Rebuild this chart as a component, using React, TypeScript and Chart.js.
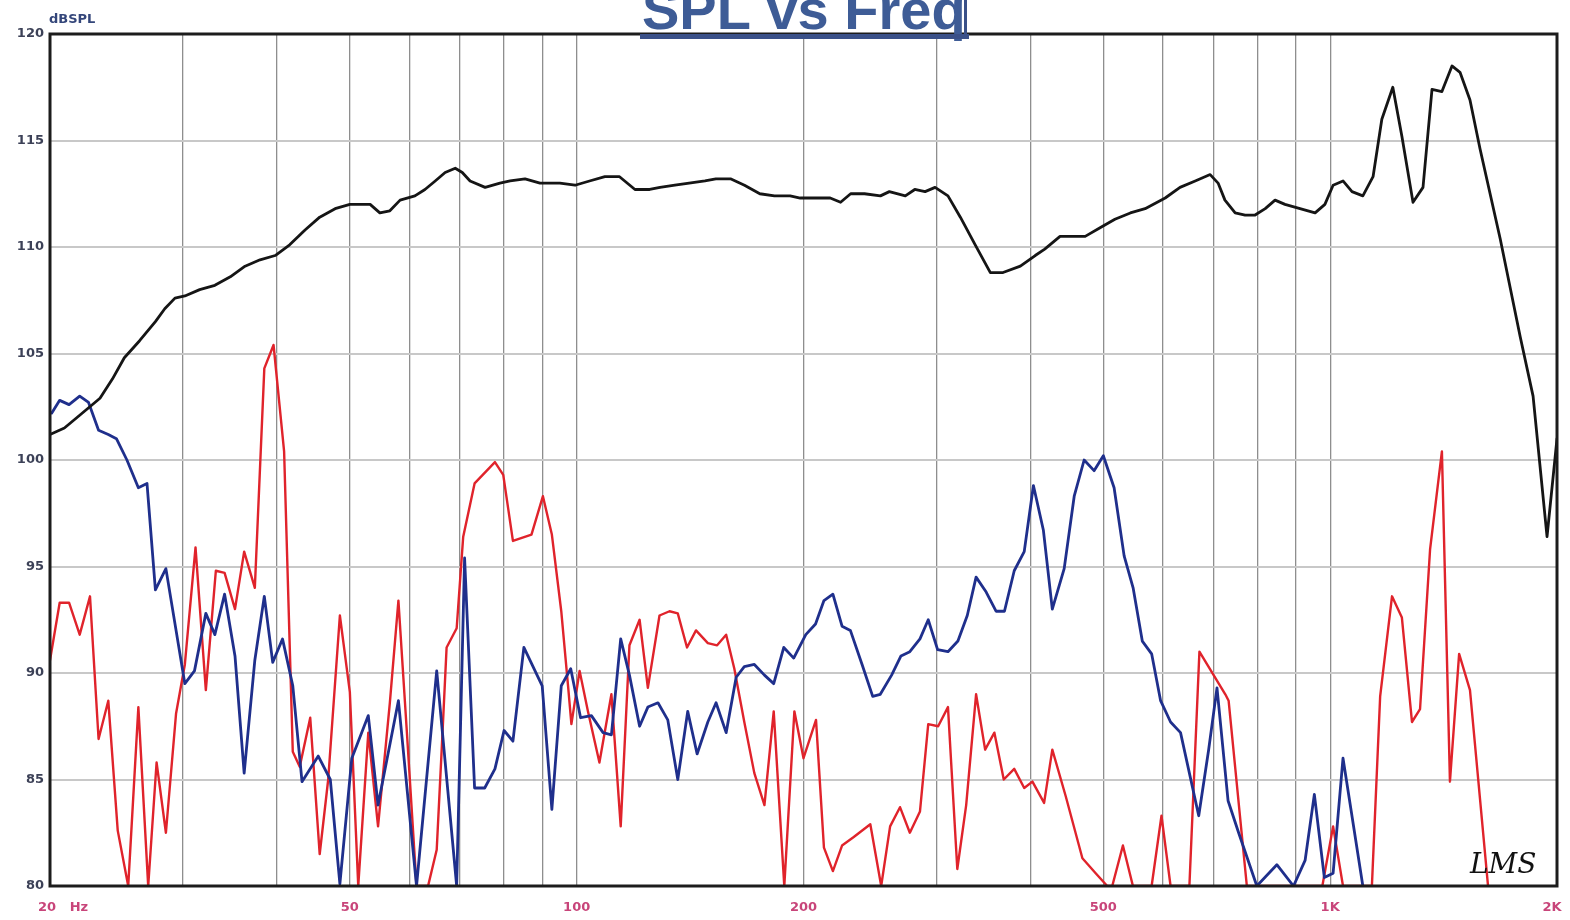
import React, { useEffect, useRef } from "react";
import { Chart, registerables } from "chart.js";

Chart.register(...registerables);

// [frequency Hz, dB SPL]
const blackSeries: [number, number][] = [
  [20, 101.2], [20.9, 101.5], [21.9, 102.1], [23.3, 102.9], [24.2, 103.8], [25.1, 104.8], [26.3, 105.6],
  [27.6, 106.5], [28.4, 107.1], [29.3, 107.6], [30.2, 107.7], [31.6, 108.0], [33.1, 108.2], [34.7, 108.6],
  [36.3, 109.1], [38.0, 109.4], [39.8, 109.6], [41.6, 110.1], [43.6, 110.8], [45.6, 111.4], [47.8, 111.8],
  [50, 112.0], [53.2, 112.0], [54.8, 111.6], [56.5, 111.7], [58.3, 112.2], [61, 112.4], [62.9, 112.7],
  [64.9, 113.1], [66.9, 113.5], [69, 113.7], [70.5, 113.5], [72.2, 113.1], [75.6, 112.8], [79.1, 113.0],
  [81.6, 113.1], [85.4, 113.2], [89.4, 113.0], [95, 113.0], [99.5, 112.9], [104, 113.1], [109, 113.3],
  [114, 113.3], [119.5, 112.7], [125, 112.7], [129, 112.8], [135, 112.9], [141, 113.0], [148, 113.1],
  [153, 113.2], [160, 113.2], [167, 112.9], [175, 112.5], [183, 112.4], [192, 112.4], [198, 112.3],
  [207, 112.3], [217, 112.3], [224, 112.1], [231, 112.5], [241, 112.5], [253, 112.4], [260, 112.6],
  [273, 112.4], [281, 112.7], [290, 112.6], [299, 112.8], [311, 112.4], [323, 111.4], [338, 110.1],
  [354, 108.8], [368, 108.8], [388, 109.1], [406, 109.6], [418, 109.9], [438, 110.5], [473, 110.5],
  [495, 110.9], [518, 111.3], [543, 111.6], [568, 111.8], [604, 112.3], [632, 112.8], [662, 113.1],
  [693, 113.4], [710, 113.0], [725, 112.2], [748, 111.6], [771, 111.5], [795, 111.5], [820, 111.8],
  [845, 112.2], [871, 112.0], [912, 111.8], [955, 111.6], [984, 112.0], [1009, 112.9], [1040, 113.1],
  [1069, 112.6], [1105, 112.4], [1140, 113.3], [1171, 116.0], [1211, 117.5], [1245, 115.2], [1288, 112.1],
  [1328, 112.8], [1365, 117.4], [1407, 117.3], [1451, 118.5], [1487, 118.2], [1533, 116.9], [1581, 114.6],
  [1681, 110.4], [1787, 105.8], [1859, 103.0], [1940, 96.4], [2000, 101.0],
];

const blueSeries: [number, number][] = [
  [20.1, 102.2], [20.6, 102.8], [21.2, 102.6], [21.9, 103.0], [22.5, 102.7], [23.2, 101.4], [23.9, 101.2],
  [24.5, 101.0], [25.3, 100.0], [26.2, 98.7], [26.9, 98.9], [27.6, 93.9], [28.5, 94.9], [30.2, 89.5],
  [31.1, 90.1], [32.2, 92.8], [33.1, 91.8], [34.1, 93.7], [35.2, 90.8], [36.2, 85.3], [37.4, 90.6],
  [38.5, 93.6], [39.5, 90.5], [40.7, 91.6], [42.0, 89.4], [43.2, 84.9], [45.4, 86.1], [47.1, 85.0],
  [48.5, 80.1], [50.3, 86.0], [52.9, 88.0], [54.5, 83.8], [58.0, 88.7], [61.3, 80], [65.2, 90.1],
  [69.3, 80], [71.0, 95.4], [73.2, 84.6], [75.5, 84.6], [77.9, 85.5], [80.1, 87.3], [82.3, 86.8],
  [85.1, 91.2], [90, 89.4], [92.7, 83.6], [95.4, 89.4], [98.2, 90.2], [101.2, 87.9], [104.6, 88.0],
  [108.4, 87.2], [111.2, 87.1], [114.4, 91.6], [117.5, 89.9], [121.2, 87.5], [124.3, 88.4], [128.2, 88.6],
  [132.1, 87.8], [136.2, 85.0], [140.4, 88.2], [144.5, 86.2], [149.3, 87.7], [153.1, 88.6], [157.9, 87.2],
  [162.8, 89.8], [166.9, 90.3], [172.1, 90.4], [177.5, 89.9], [182.6, 89.5], [188.3, 91.2], [194.1, 90.7],
  [201.4, 91.8], [207.5, 92.3], [212.9, 93.4], [218.8, 93.7], [225, 92.2], [230.8, 92.0], [239.2, 90.4],
  [247.1, 88.9], [252.9, 89.0], [261.8, 89.9], [269.4, 90.8], [276.8, 91.0], [285.5, 91.6], [292.8, 92.5],
  [301.3, 91.1], [311, 91.0], [320.6, 91.5], [329.9, 92.7], [338.9, 94.5], [349.5, 93.8], [360.2, 92.9],
  [369.6, 92.9], [380.8, 94.8], [392.6, 95.7], [403.8, 98.8], [416.3, 96.7], [427.8, 93.0], [443.6, 94.9],
  [457.4, 98.3], [471.5, 100.0], [486, 99.5], [500, 100.2], [516.7, 98.7], [532.8, 95.5], [547.6, 94.0],
  [563.2, 91.5], [579.5, 90.9], [595.6, 88.7], [614, 87.7], [633, 87.2], [669.2, 83.3], [689.8, 86.4],
  [707.6, 89.3], [732, 84.0], [756, 82.5], [799.2, 80], [849.6, 81.0], [894, 80], [926.2, 81.2],
  [952.8, 84.3], [982.4, 80.4], [1009, 80.6], [1040, 86.0], [1105, 80],
];

const redSeries: [number, number][] = [
  [20, 90.6], [20.6, 93.3], [21.2, 93.3], [21.9, 91.8], [22.6, 93.6], [23.2, 86.9], [23.9, 88.7],
  [24.6, 82.6], [25.4, 80], [26.2, 88.4], [27.0, 80], [27.7, 85.8], [28.5, 82.5], [29.4, 88.1],
  [30.2, 90.4], [31.2, 95.9], [32.2, 89.2], [33.2, 94.8], [34.1, 94.7], [35.2, 93.0], [36.2, 95.7],
  [37.4, 94.0], [38.5, 104.3], [39.6, 105.4], [40.9, 100.4], [42.0, 86.3], [42.9, 85.6], [44.3, 87.9],
  [45.6, 81.5], [46.8, 85.0], [48.5, 92.7], [50, 89.1], [51.3, 80], [52.9, 87.2], [54.5, 82.8],
  [56.5, 88.6], [58.0, 93.4], [59.5, 87.3], [61.3, 80], [63.5, 80], [65.2, 81.7], [66.2, 86.4],
  [67.2, 91.2], [69.3, 92.1], [70.7, 96.4], [73.2, 98.9], [77.9, 99.9], [79.9, 99.3], [82.3, 96.2],
  [87.1, 96.5], [90.2, 98.3], [92.7, 96.5], [95.4, 92.9], [97.4, 89.4], [98.4, 87.6], [100.9, 90.1],
  [103.5, 88.2], [107.2, 85.8], [111.2, 89.0], [114.4, 82.8], [117.5, 91.3], [121.2, 92.5], [124.3, 89.3],
  [128.8, 92.7], [132.8, 92.9], [136.2, 92.8], [140.1, 91.2], [144, 92.0], [149.3, 91.4], [153.6, 91.3],
  [157.9, 91.8], [161.9, 90.2], [166.9, 87.7], [172.1, 85.3], [177.5, 83.8], [182.6, 88.2], [188.6, 80],
  [194.5, 88.2], [200, 86.0], [207.8, 87.8], [212.9, 81.8], [218.8, 80.7], [225, 81.9], [233.2, 82.3],
  [245.3, 82.9], [253.6, 80], [260.6, 82.8], [268.6, 83.7], [276.8, 82.5], [285.5, 83.5], [292.8, 87.6],
  [301.8, 87.5], [311, 88.4], [320, 80.8], [328.8, 83.8], [338.9, 89.0], [348.4, 86.4], [358.4, 87.2],
  [368.8, 85.0], [380.8, 85.5], [392.6, 84.6], [402.6, 84.9], [417.2, 83.9], [427.8, 86.4], [445.8, 84.2],
  [469, 81.3], [488.4, 80.6], [506, 80], [513.8, 80], [530.8, 81.9], [547.3, 80], [579.5, 80],
  [597.2, 83.3], [614, 80], [650.4, 80], [670.6, 91.0], [725.8, 89.0], [733.2, 88.7], [775.2, 80],
  [976.4, 80], [1009, 82.8], [1040, 80], [1136, 80], [1165, 88.9], [1208, 93.6], [1245, 92.6],
  [1284, 87.7], [1316, 88.3], [1357, 95.8], [1407, 100.4], [1442, 84.9], [1483, 90.9], [1533, 89.2],
  [1620, 80],
];

const xGridValues = [20, 30, 40, 50, 60, 70, 80, 90, 100, 200, 300, 400, 500, 600, 700, 800, 900, 1000, 2000];
const xLabelValues = [20, 50, 100, 200, 500, 1000, 2000];
const xLabelTexts = ["20   Hz", "50", "100", "200", "500", "1K", "2K"];
const yMin = 80;
const yMax = 120;
const yStep = 5;
const titleText = "SPL vs Freq";
const yUnitText = "dBSPL";
const signatureText = "LMS";

const toPoints = (s: [number, number][]) => s.map(([x, y]) => ({ x, y }));

export default function App() {
  const ref = useRef<HTMLCanvasElement>(null);

  useEffect(() => {
    document.body.style.margin = "0";
    const canvas = ref.current;
    if (!canvas) return;

    const decor = {
      id: "decor",
      afterDatasetsDraw(chart: any) {
        const { ctx, chartArea: a } = chart;
        ctx.save();
        ctx.strokeStyle = "#1c1c1c";
        ctx.lineWidth = 3;
        ctx.strokeRect(a.left, a.top, a.right - a.left, a.bottom - a.top);
        ctx.restore();
      },
      afterDraw(chart: any) {
        const { ctx, chartArea: a, scales } = chart;
        const xs = scales.x;
        ctx.save();
        // x labels
        ctx.font = 'bold 13px "DejaVu Sans"';
        ctx.fillStyle = "#c8457a";
        ctx.textBaseline = "middle";
        xLabelValues.forEach((v, i) => {
          const px = xs.getPixelForValue(v);
          if (i === 0) {
            ctx.textAlign = "left";
            ctx.fillText(xLabelTexts[i], px - 12, a.bottom + 22);
          } else if (i === xLabelValues.length - 1) {
            ctx.textAlign = "center";
            ctx.fillText(xLabelTexts[i], px - 5, a.bottom + 22);
          } else {
            ctx.textAlign = "center";
            ctx.fillText(xLabelTexts[i], px, a.bottom + 22);
          }
        });
        // unit label
        ctx.font = 'bold 13px "DejaVu Sans"';
        ctx.fillStyle = "#34467a";
        ctx.textAlign = "left";
        ctx.textBaseline = "alphabetic";
        ctx.fillText(yUnitText, a.left - 1, 23);
        // title
        ctx.font = 'bold 56px "Liberation Sans"';
        ctx.fillStyle = "#3e5c96";
        ctx.textAlign = "left";
        ctx.fillText(titleText, 642, 29);
        ctx.fillStyle = "#3a5088";
        ctx.fillRect(640, 34, 329, 5);
        ctx.fillRect(964, 0, 3, 39);
        // signature
        ctx.font = 'italic 28px "DejaVu Serif"';
        ctx.fillStyle = "#111";
        ctx.fillText(signatureText, 1470, 873);
        ctx.restore();
      },
    };

    const chart = new Chart(canvas, {
      type: "line",
      data: {
        datasets: [
          { label: "SPL", data: toPoints(blackSeries), borderColor: "#151515", borderWidth: 2.8 },
          { label: "Blue", data: toPoints(blueSeries), borderColor: "#1f2f8c", borderWidth: 2.8 },
          { label: "Red", data: toPoints(redSeries), borderColor: "#e0232b", borderWidth: 2.4 },
        ],
      },
      options: {
        responsive: false,
        animation: false,
        parsing: true,
        layout: { padding: { top: 34, right: 13, bottom: 0, left: 0 } },
        plugins: {
          legend: { display: false },
          title: { display: false },
          tooltip: { enabled: false },
        },
        elements: {
          point: { radius: 0 },
          line: { tension: 0, borderJoinStyle: "round", borderCapStyle: "round", fill: false },
        },
        scales: {
          x: {
            type: "logarithmic",
            min: 20,
            max: 2000,
            afterFit(s: any) {
              s.height = 34;
            },
            afterBuildTicks(s: any) {
              s.ticks = xGridValues.map((v) => ({ value: v }));
            },
            ticks: { display: false },
            grid: { color: "#8e8e8e", lineWidth: 1.3, drawTicks: false },
            border: { display: false },
          },
          y: {
            type: "linear",
            min: yMin,
            max: yMax,
            afterFit(s: any) {
              s.width = 50;
            },
            ticks: {
              stepSize: yStep,
              padding: 6,
              color: "#3c4157",
              font: { family: "DejaVu Sans", size: 13, weight: "bold" },
            },
            grid: { color: "#c8c8c8", lineWidth: 2, drawTicks: false },
            border: { display: false },
          },
        },
      } as any,
      plugins: [decor],
    });

    return () => chart.destroy();
  }, []);

  return (
    <div style={{ position: "absolute", left: 0, top: 0, width: 1570, height: 920, background: "#fff" }}>
      <canvas ref={ref} width={1570} height={920} style={{ display: "block" }} />
    </div>
  );
}
